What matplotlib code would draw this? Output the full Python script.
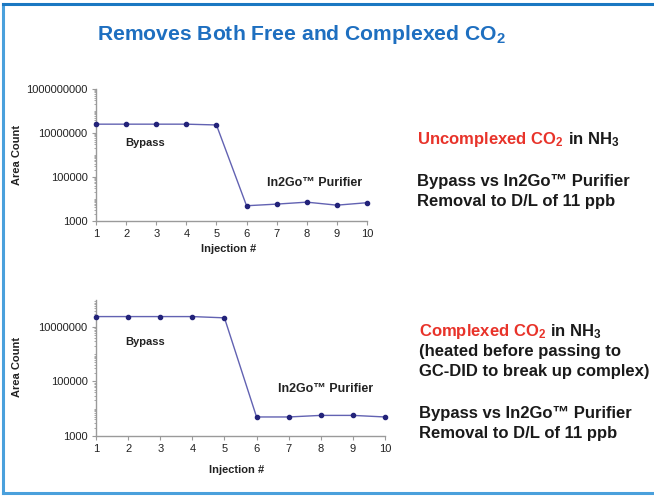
import matplotlib
matplotlib.use("Agg")
import matplotlib.pyplot as plt
from matplotlib.ticker import FixedLocator, FuncFormatter, NullFormatter

plt.rcParams['font.family'] = ['Liberation Sans', 'DejaVu Sans']
plt.rcParams['mathtext.fontset'] = 'custom'
plt.rcParams['mathtext.rm'] = 'Liberation Sans:bold'
plt.rcParams['mathtext.it'] = 'Liberation Sans:bold'
plt.rcParams['mathtext.bf'] = 'Liberation Sans:bold'

injections = [1, 2, 3, 4, 5, 6, 7, 8, 9, 10]
uncomplexed = [25000000, 25000000, 25000000, 25000000, 23000000, 4800, 5700, 7000, 5100, 6600]
complexed = [24500000, 24500000, 24500000, 24500000, 22000000, 4900, 4900, 5600, 5600, 4900]
ytick_top = [1e3, 1e5, 1e7, 1e9]
ytick_bot = [1e3, 1e5, 1e7]

W, H = 654, 496
fig = plt.figure(figsize=(W / 100, H / 100), dpi=100)

# border
fig.add_artist(plt.Line2D([3 / W, 3 / W], [1 - 4 / H, 1 - 493 / H], color='#4aa0dc', lw=2.2))
fig.add_artist(plt.Line2D([3 / W, 1], [1 - 4 / H, 1 - 4 / H], color='#1a78c2', lw=2.2))
fig.add_artist(plt.Line2D([3 / W, 1], [1 - 493 / H, 1 - 493 / H], color='#4aa0dc', lw=2.2))

GREY = '#9a9a9a'
LINE = '#6262b2'
MARK = '#23237a'


def fx(px):
    return px / W


def fy(py):
    return 1 - py / H


def make_axes(left, right, top, bottom, data, ylim, yticks):
    ax = fig.add_axes([fx(left), fy(bottom), (right - left) / W, (bottom - top) / H])
    ax.set_yscale('log')
    ax.plot(injections, data, color=LINE, lw=1.0, marker='o', ms=3.0,
            mfc=MARK, mec=MARK, clip_on=False, zorder=3)
    ax.set_xlim(1, 10)
    ax.set_ylim(*ylim)
    for s in ['top', 'right']:
        ax.spines[s].set_visible(False)
    for s in ['left', 'bottom']:
        ax.spines[s].set_color(GREY)
        ax.spines[s].set_linewidth(1.0)
    ax.set_xticks(injections)
    ax.set_xticklabels([str(i) for i in injections])
    ax.yaxis.set_major_locator(FixedLocator(yticks))
    ax.yaxis.set_major_formatter(FuncFormatter(lambda v, p: f"{int(round(v))}"))
    minors = []
    d = ylim[0]
    while d < ylim[1]:
        for k in range(2, 10):
            minors.append(d * k)
        d *= 10
        if d < ylim[1] and d not in yticks:
            minors.append(d)
    ax.yaxis.set_minor_locator(FixedLocator(minors))
    ax.yaxis.set_minor_formatter(NullFormatter())
    ax.tick_params(axis='both', which='major', colors=GREY, labelcolor='#222222',
                   labelsize=8, length=3, width=0.8)
    ax.tick_params(axis='y', which='minor', colors=GREY, length=1.8, width=0.6)
    ax.tick_params(axis='x', pad=3)
    ax.tick_params(axis='y', pad=3)
    ax.set_facecolor('none')
    return ax


ax1 = make_axes(96, 367, 89, 220.7, uncomplexed, (1e3, 1e9), ytick_top)
ax2 = make_axes(96, 385, 300, 435.7, complexed, (1e3, 1e8), ytick_bot)

# axis labels
fig.text(fx(17), fy(155), 'Area Count', rotation=90, ha='center', va='center',
         fontsize=8, fontweight='bold', color='#222222')
fig.text(fx(229), fy(249), 'Injection #', ha='center', va='center',
         fontsize=8, fontweight='bold', color='#222222')
fig.text(fx(17), fy(367), 'Area Count', rotation=90, ha='center', va='center',
         fontsize=8, fontweight='bold', color='#222222')
fig.text(fx(237), fy(470), 'Injection #', ha='center', va='center',
         fontsize=8, fontweight='bold', color='#222222')

# in-chart annotations
fig.text(fx(125), fy(143.3), 'Bypass', ha='left', va='center', fontsize=8,
         fontweight='bold', color='#222222')
fig.text(fx(267), fy(183.3), 'In2Go™ Purifier', ha='left', va='center', fontsize=9,
         fontweight='bold', color='#222222')
fig.text(fx(125), fy(341.7), 'Bypass', ha='left', va='center', fontsize=8,
         fontweight='bold', color='#222222')
fig.text(fx(278), fy(389), 'In2Go™ Purifier', ha='left', va='center', fontsize=9,
         fontweight='bold', color='#222222')

# title
fig.text(fx(97), fy(35), 'Removes Both Free and Complexed CO$_2$', ha='left', va='center',
         fontsize=15.2, fontweight='bold', color='#1e6fc0')

RED = '#e8332a'
BLK = '#1a1a1a'
FS = 12

t1 = fig.text(fx(417), fy(144), 'Uncomplexed CO$_2$', ha='left', va='baseline',
              fontsize=FS, fontweight='bold', color=RED)
plt.annotate('in NH$_3$', xy=(1, 0), xycoords=t1, xytext=(3, 0), textcoords='offset points',
             va='bottom', ha='left', fontsize=FS, fontweight='bold', color=BLK,
             annotation_clip=False)
fig.text(fx(417), fy(181.7), 'Bypass vs In2Go™ Purifier', ha='left', va='center',
         fontsize=FS, fontweight='bold', color=BLK)
fig.text(fx(417), fy(201.7), 'Removal to D/L of 11 ppb', ha='left', va='center',
         fontsize=FS, fontweight='bold', color=BLK)

t2 = fig.text(fx(419), fy(336), 'Complexed CO$_2$', ha='left', va='baseline',
              fontsize=FS, fontweight='bold', color=RED)
plt.annotate('in NH$_3$', xy=(1, 0), xycoords=t2, xytext=(3, 0), textcoords='offset points',
             va='bottom', ha='left', fontsize=FS, fontweight='bold', color=BLK,
             annotation_clip=False)
fig.text(fx(419), fy(351.7), '(heated before passing to', ha='left', va='center',
         fontsize=FS, fontweight='bold', color=BLK)
fig.text(fx(419), fy(371.7), 'GC-DID to break up complex)', ha='left', va='center',
         fontsize=FS, fontweight='bold', color=BLK)
fig.text(fx(419), fy(413.3), 'Bypass vs In2Go™ Purifier', ha='left', va='center',
         fontsize=FS, fontweight='bold', color=BLK)
fig.text(fx(419), fy(433.3), 'Removal to D/L of 11 ppb', ha='left', va='center',
         fontsize=FS, fontweight='bold', color=BLK)

fig.savefig('out.png', dpi=100)
